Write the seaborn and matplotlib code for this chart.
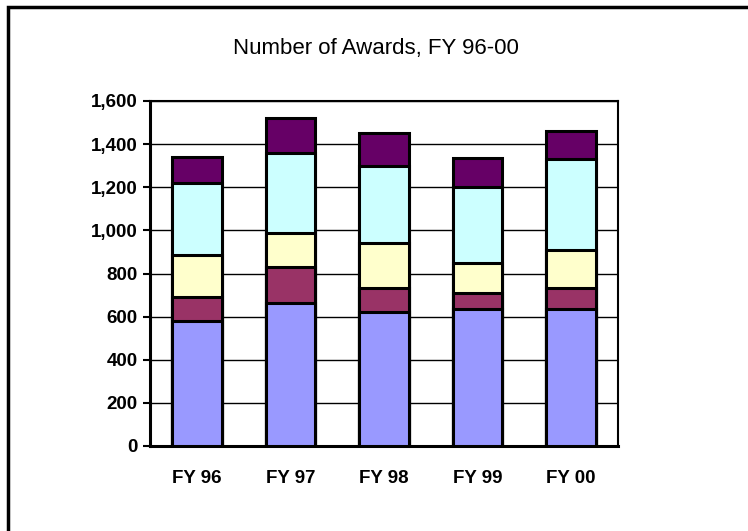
import pandas as pd
import matplotlib.pyplot as plt
import numpy as np
import seaborn as sns
from matplotlib.patches import Rectangle

years = ['FY 96', 'FY 97', 'FY 98', 'FY 99', 'FY 00']
# segment values, bottom to top
seg1 = [580, 665, 620, 635, 635]
seg2 = [110, 165, 115, 75, 100]
seg3 = [195, 160, 205, 140, 175]
seg4 = [335, 370, 360, 350, 420]
seg5 = [120, 160, 150, 135, 130]
colors = ['#9999FF', '#993366', '#FFFFCC', '#CCFFFF', '#660066']

sns.set_style('white')
plt.rcParams['font.family'] = ['Liberation Sans', 'DejaVu Sans']
plt.rcParams['text.color'] = 'black'
plt.rcParams['xtick.color'] = 'black'
plt.rcParams['ytick.color'] = 'black'

fig = plt.figure(figsize=(7.48, 5.31), dpi=100)
ax = fig.add_axes([150/748, 1 - 446/531, 468/748, 345/531])

df = pd.DataFrame({'year': years, 's1': seg1, 's2': seg2, 's3': seg3, 's4': seg4, 's5': seg5})
cols = ['s1', 's2', 's3', 's4', 's5']
cum = df[cols].cumsum(axis=1)

# draw tallest first so lower segments sit on top
for c, col in reversed(list(zip(colors, cols))):
    sns.barplot(x=df['year'], y=cum[col], color=c, width=0.53, ax=ax,
                edgecolor='black', linewidth=2.2, saturation=1, zorder=3)

ax.set_ylim(0, 1600)
ax.set_xlim(-0.5, 4.5)
ax.set_yticks(range(0, 1601, 200))
ax.set_yticklabels([f'{v:,}' for v in range(0, 1601, 200)], fontsize=13.5, fontweight='bold')
ax.set_xticks(range(5))
ax.set_xticklabels(years, fontsize=13.5, fontweight='bold')
ax.set_xticks(np.arange(-0.5, 5, 1), minor=True)
ax.tick_params(axis='x', which='major', length=0, pad=17)
ax.tick_params(axis='x', which='minor', length=6, width=1.5, direction='out', color='black')
ax.tick_params(axis='y', length=5, width=1.5, direction='out', color='black', pad=4, left=True)
ax.set_xlabel('')
ax.set_ylabel('')
ax.grid(axis='y', color='black', linewidth=1, zorder=0)
ax.set_axisbelow(True)
for s in ['left', 'bottom']:
    ax.spines[s].set_linewidth(2.2)
    ax.spines[s].set_color('black')
for s in ['top', 'right']:
    ax.spines[s].set_linewidth(1.5)
    ax.spines[s].set_color('black')

fig.text(376/748, 1 - 48/531, 'Number of Awards, FY 96-00', ha='center', va='center', fontsize=16)

fig.patches.append(Rectangle((8/748, -0.1), 1.0, 1 - 7/531 + 0.1, transform=fig.transFigure,
                             fill=False, edgecolor='black', linewidth=2.5))

fig.savefig('out.png', dpi=100)
